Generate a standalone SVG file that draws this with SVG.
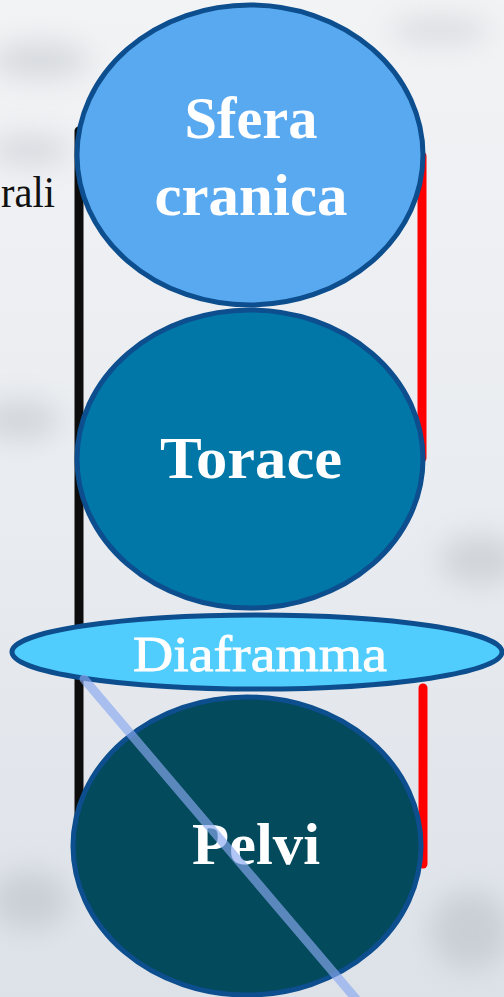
<svg xmlns="http://www.w3.org/2000/svg" width="504" height="997" viewBox="0 0 504 997">
  <defs>
    <linearGradient id="bg" x1="0" y1="0" x2="0" y2="1">
      <stop offset="0" stop-color="#f2f3f5"/>
      <stop offset="0.5" stop-color="#e9ecf0"/>
      <stop offset="1" stop-color="#dde2e9"/>
    </linearGradient>
    <filter id="soft" x="-50%" y="-50%" width="200%" height="200%">
      <feGaussianBlur stdDeviation="14"/>
    </filter>
    <style>
      .node { stroke: #0d4e8e; stroke-width: 5; }
      .lbl { font-family: "Liberation Serif", "DejaVu Serif", serif; fill: #ffffff; text-anchor: middle; }
      .b { font-weight: bold; }
      .bar { fill: none; stroke-width: 9; stroke-linecap: round; }
    </style>
  </defs>

  <!-- backdrop -->
  <rect width="504" height="997" fill="url(#bg)"/>
  <g filter="url(#soft)" fill="#9aa0a8" opacity="0.3">
    <ellipse cx="40" cy="60" rx="50" ry="18"/>
    <ellipse cx="30" cy="150" rx="40" ry="14"/>
    <ellipse cx="20" cy="420" rx="40" ry="20"/>
    <ellipse cx="440" cy="30" rx="50" ry="12"/>
    <ellipse cx="480" cy="560" rx="40" ry="25"/>
    <ellipse cx="30" cy="900" rx="40" ry="30"/>
    <ellipse cx="470" cy="930" rx="40" ry="40"/>
  </g>

  <!-- side brackets -->
  <g id="connectors">
    <line class="bar" x1="79" y1="131" x2="79" y2="874" stroke="#0d0d0d"/>
    <line class="bar" x1="422" y1="156" x2="422" y2="458" stroke="#ff0000"/>
    <line class="bar" x1="423" y1="688" x2="423" y2="864" stroke="#ff0000"/>
  </g>

  <text x="1" y="207" font-family="'Liberation Serif', 'DejaVu Serif', serif" font-size="44" fill="#111" textLength="54" lengthAdjust="spacingAndGlyphs">rali</text>

  <g id="sfera">
    <ellipse class="node" cx="250" cy="155" rx="173" ry="150" fill="#59a9f0"/>
    <text class="lbl b" x="251" y="138" font-size="59" textLength="133" lengthAdjust="spacingAndGlyphs">Sfera</text>
    <text class="lbl b" x="251" y="215" font-size="59" textLength="193" lengthAdjust="spacingAndGlyphs">cranica</text>
  </g>

  <g id="torace">
    <ellipse class="node" cx="250" cy="459" rx="173" ry="149" fill="#0077a7"/>
    <text class="lbl b" x="251" y="478" font-size="60" textLength="182" lengthAdjust="spacingAndGlyphs">Torace</text>
  </g>

  <g id="pelvi">
    <ellipse class="node" cx="247" cy="846" rx="174" ry="149" fill="#034a5c"/>
    <text class="lbl b" x="256" y="864" font-size="60" textLength="128" lengthAdjust="spacingAndGlyphs">Pelvi</text>
  </g>

  <g id="diaframma">
    <ellipse class="node" cx="257" cy="652" rx="245" ry="37" fill="#50cdfd"/>
    <text class="lbl" x="260" y="671" font-size="50" textLength="254" lengthAdjust="spacingAndGlyphs" stroke="#ffffff" stroke-width="0.8">Diaframma</text>
  </g>

  <!-- diagonal strike -->
  <line x1="84" y1="679" x2="356" y2="999" stroke="#89a9ef" stroke-opacity="0.66" stroke-width="9" stroke-linecap="round"/>
</svg>
